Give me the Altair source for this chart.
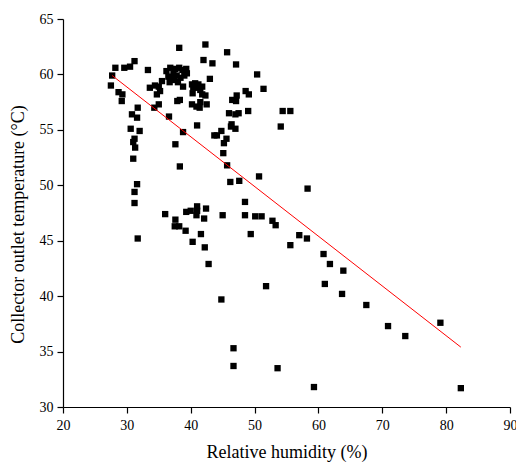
import altair as alt
import pandas as pd

# Relative humidity (%) and collector outlet temperature (°C)
rh = [27.7, 27.5, 28.2, 29.6, 30.5, 31.2, 28.7, 29.3, 29.2, 31.7, 30.8, 31.6, 30.6, 32.0, 31.2, 31.0, 31.3, 31.0, 31.6, 31.2, 31.2, 31.7,
      33.3, 33.6, 34.4, 35.0, 35.2, 34.7, 35.5, 35.0, 34.3, 36.6, 36.0,
      36.2, 36.8, 37.3, 37.6, 38.2, 38.7, 39.3, 36.5, 37.0, 37.8, 38.4, 39.0, 39.4, 36.7, 38.0, 37.4,
      38.8, 37.9, 38.3, 38.2, 38.8, 37.6, 41.0, 38.3,
      37.6, 37.5, 38.2, 39.2, 39.3, 40.0, 40.9, 41.0, 41.0, 42.4, 42.1, 45.0, 40.3, 41.6, 42.2, 42.8, 44.8, 46.7, 46.7, 53.6, 59.3,
      40.2, 40.7, 41.2, 41.8, 40.4, 41.1, 41.5, 40.3, 41.8, 42.3, 41.5, 42.5, 40.2, 40.9, 41.4,
      42.3, 42.0, 43.4, 43.0, 45.7, 47.1, 50.4, 51.4, 48.6, 49.1, 46.5, 47.2, 47.1, 46.0, 47.0, 47.5, 49.0, 54.4, 55.6, 54.1,
      46.4, 46.3, 47.0, 44.8, 43.7, 44.1, 45.6, 45.2, 45.1, 45.7,
      50.7, 46.2, 47.6, 58.3, 48.5, 48.5, 50.1, 51.1, 52.8, 53.3, 49.4, 57.0, 58.2, 55.6, 60.8, 61.8, 63.9, 51.8, 61.0, 63.7,
      67.5, 70.9, 73.6, 79.1, 82.3]
temp = [59.9, 59.0, 60.6, 60.6, 60.7, 61.2, 58.4, 58.2, 57.6, 57.0, 56.4, 56.1, 55.1, 54.9, 54.2, 53.9, 53.4, 52.4, 50.1, 49.4, 48.4, 45.2,
        60.4, 58.8, 59.0, 58.9, 58.5, 58.2, 59.4, 57.3, 57.0, 56.2, 47.4,
        60.3, 60.6, 60.1, 60.5, 60.6, 60.4, 60.5, 59.8, 59.6, 59.9, 59.7, 59.9, 60.1, 59.3, 59.3, 59.5,
        58.9, 57.6, 57.7, 62.4, 54.8, 53.7, 55.4, 51.7,
        46.9, 46.3, 46.3, 45.9, 47.6, 47.7, 47.3, 48.1, 47.7, 47.9, 47.0, 47.3, 44.9, 45.6, 44.4, 42.9, 39.7, 35.3, 33.7, 33.5, 31.8,
        59.1, 59.2, 59.1, 58.9, 58.8, 58.8, 58.6, 58.3, 58.2, 58.1, 57.5, 57.3, 57.3, 57.1, 57.0,
        62.7, 61.3, 61.0, 59.6, 62.0, 60.9, 60.0, 58.7, 58.5, 58.2, 57.7, 58.1, 57.6, 56.5, 56.4, 56.5, 56.7, 56.7, 56.7, 55.3,
        55.5, 55.3, 55.1, 54.9, 54.5, 54.5, 54.2, 53.8, 52.9, 51.8,
        50.8, 50.3, 50.4, 49.7, 48.5, 47.3, 47.2, 47.2, 46.8, 46.4, 45.6, 45.5, 45.2, 44.6, 43.8, 42.9, 42.3, 40.9, 41.1, 40.2,
        39.2, 37.3, 36.4, 37.6, 31.7]

# Fitted line end points
fit_rh = [27.7, 82.3]
fit_temp = [59.9, 35.4]

x_ticks = [20, 25, 30, 35, 40, 45, 50, 55, 60, 65, 70, 75, 80, 85, 90]
y_ticks = [30, 32.5, 35, 37.5, 40, 42.5, 45, 47.5, 50, 52.5, 55, 57.5, 60, 62.5, 65]

pts = pd.DataFrame({"rh": rh, "temp": temp})
fit = pd.DataFrame({"rh": fit_rh, "temp": fit_temp})

FONT = "Liberation Serif"

xscale = alt.Scale(domain=[20, 90], nice=False, zero=False)
yscale = alt.Scale(domain=[30, 65], nice=False, zero=False)

xaxis = alt.Axis(
    values=x_ticks, grid=False, title="Relative humidity (%)",
    labelExpr="datum.value % 10 === 0 ? datum.label : ''",
    tickSize={"condition": {"test": "datum.value % 10 !== 0", "value": 4}, "value": 6},
    labelPadding=5, titlePadding=11, labelFlush=False,
)
yaxis = alt.Axis(
    values=y_ticks, grid=False, title="Collector outlet temperature (°C)",
    labelExpr="datum.value % 5 === 0 ? datum.label : ''",
    tickSize={"condition": {"test": "datum.value % 5 !== 0", "value": 4}, "value": 6},
    labelPadding=4, labelFlush=False,
    titleX=-45, titleY=205, titleBaseline="middle", titleAlign="center", titleAngle=270,
)

points = alt.Chart(pts).mark_square(size=40, color="black", opacity=1).encode(
    x=alt.X("rh:Q", scale=xscale, axis=xaxis),
    y=alt.Y("temp:Q", scale=yscale, axis=yaxis),
)
line = alt.Chart(fit).mark_line(color="#ff0000", strokeWidth=1).encode(
    x=alt.X("rh:Q", scale=xscale),
    y=alt.Y("temp:Q", scale=yscale),
)

chart = alt.layer(points, line).properties(
    width=447, height=388,
    autosize=alt.AutoSizeParams(type="none"),
    padding={"left": 63, "top": 19, "right": 6, "bottom": 67},
    background="white",
).configure_view(strokeWidth=0).configure_axis(
    domainColor="black", domainWidth=1.2, tickColor="black", tickWidth=1.2,
    labelFont=FONT, labelFontSize=14, labelColor="black",
    titleFont=FONT, titleFontSize=18, titleFontWeight="normal", titleColor="black",
)

chart.save("out.html", embed_options={"renderer": "svg", "actions": False})
